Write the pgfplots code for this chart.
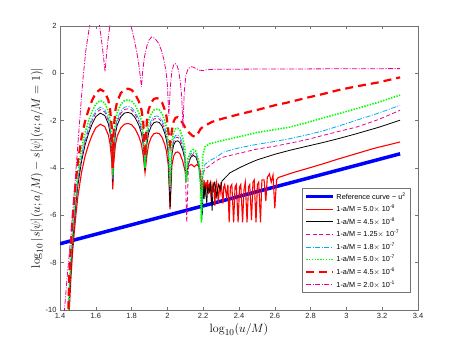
\documentclass[border=0pt]{standalone}
\usepackage[no-math]{fontspec}
\setmainfont{Liberation Sans}
\usepackage{pgfplots}
\pgfplotsset{compat=1.18}
\definecolor{axgray}{rgb}{0.45,0.45,0.45}
\begin{document}
\begin{tikzpicture}
\begin{axis}[
  name=ax,
  scale only axis,
  width=358pt, height=284pt,
  xmin=1.4, xmax=3.4, ymin=-10, ymax=2,
  xtick={1.4,1.6,1.8,2,2.2,2.4,2.6,2.8,3,3.2,3.4},
  xticklabels={1.4,1.6,1.8,2,2.2,2.4,2.6,2.8,3,3.2,3.4},
  ytick={-10,-8,-6,-4,-2,0,2},
  yticklabels={-10,-8,-6,-4,-2,0,2},
  tick align=inside,
  major tick length=3.5pt,
  axis line style={axgray, line width=0.5pt},
  every tick/.style={axgray, line width=0.5pt},
  tick label style={font=\fontsize{7.5}{9}\selectfont, text=black!85},
  /pgf/number format/assume math mode=true,
  xlabel={$\log_{10}(u/M)$},
  ylabel={$\log_{10}|s[\psi](u;a/M)-s[\psi](u;a/M=1)|$},
  label style={font=\fontsize{13}{15}\selectfont},
  xlabel style={yshift=2pt},
  ylabel style={yshift=-4pt},
  legend style={at={(0.978,0.06)}, anchor=south east, draw=axgray, line width=0.5pt,
    font=\fontsize{7.3}{8.5}\selectfont, row sep=1.3pt, inner sep=2.5pt,
    nodes={inner sep=1.6pt}},
  legend cell align=left,
  legend image code/.code={\draw[#1] (0pt,0pt) -- (27pt,0pt);},
]
% reference curve
\addplot[blue, line width=3.5pt] coordinates {(1.4,-7.2) (3.3,-3.4)};
\addlegendentry{Reference curve \textasciitilde{} u\textsuperscript{2}}
% 1-a/M = 5.0e-9 (red solid)
\addplot[red, line width=1.1pt] coordinates {
(1.447,-10.5) (1.452,-10) (1.46,-8.8) (1.47,-7.6) (1.48,-6.7) (1.49,-5.9) (1.50,-5.2) (1.52,-4.2) (1.54,-3.5) (1.56,-3.0) (1.58,-2.6) (1.60,-2.3) (1.625,-2.15) (1.65,-2.25) (1.67,-2.6) (1.68,-3.0) (1.69,-3.8) (1.695,-4.9) (1.70,-3.8) (1.71,-3.0) (1.72,-2.65) (1.74,-2.3) (1.76,-2.15) (1.78,-2.12) (1.80,-2.17) (1.82,-2.35) (1.84,-2.65) (1.855,-3.0) (1.865,-3.5) (1.875,-4.2) (1.885,-3.5) (1.895,-3.0) (1.91,-2.7) (1.925,-2.55) (1.94,-2.52) (1.955,-2.55) (1.97,-2.7) (1.985,-3.0) (1.995,-3.3) (2.005,-3.9) (2.015,-5.75) (2.025,-3.9) (2.035,-3.5) (2.045,-3.35) (2.058,-3.32) (2.07,-3.4) (2.085,-3.7) (2.098,-4.1) (2.105,-4.4) (2.112,-4.1) (2.12,-3.9) (2.135,-3.85) (2.15,-3.95) (2.165,-3.85) (2.178,-3.95) (2.186,-4.2)
(2.19,-5.0) (2.195,-4.6) (2.20,-4.8) (2.205,-4.5) (2.21,-5.2) (2.215,-4.6) (2.22,-4.9) (2.225,-4.5) (2.23,-5.1) (2.235,-4.7) (2.24,-4.6) (2.245,-5.4) (2.25,-4.7) (2.255,-4.9) (2.26,-4.6) (2.265,-5.6) (2.27,-4.8) (2.275,-4.6) (2.285,-5.5) (2.29,-4.7) (2.295,-5.0) (2.30,-4.6) (2.31,-5.5) (2.315,-4.8) (2.32,-4.7) (2.33,-5.2) (2.338,-4.7) (2.345,-6.3) (2.352,-4.8) (2.36,-4.7) (2.37,-6.3) (2.378,-4.8) (2.385,-4.7) (2.395,-6.3) (2.403,-4.8) (2.41,-4.7) (2.42,-6.3) (2.428,-4.9) (2.435,-4.6) (2.445,-6.3) (2.453,-4.8) (2.46,-4.7) (2.47,-6.2) (2.478,-4.6) (2.485,-4.5) (2.495,-6.3) (2.503,-4.7) (2.51,-4.6) (2.52,-6.3) (2.528,-4.5) (2.54,-4.5) (2.55,-5.4) (2.558,-4.4) (2.57,-4.25) (2.58,-4.6) (2.59,-4.3) (2.60,-5.7) (2.61,-4.5) (2.62,-4.4)
(2.7,-4.2) (2.8,-3.98) (2.871,-3.82) (2.95,-3.63) (3.057,-3.39) (3.15,-3.18) (3.3,-2.9)};
\addlegendentry{1-a/M = 5.0$\times$ 10\textsuperscript{-9}}
% 4.5e-8 (black)
\addplot[black, line width=0.8pt] coordinates {
(1.447,-10.5) (1.452,-9.53) (1.46,-8.33) (1.47,-7.13) (1.48,-6.23) (1.49,-5.43) (1.50,-4.73) (1.52,-3.73) (1.54,-3.03) (1.56,-2.53) (1.58,-2.13) (1.60,-1.83) (1.625,-1.68) (1.65,-1.78) (1.67,-2.13) (1.68,-2.53) (1.69,-3.33) (1.695,-4.6) (1.70,-3.33) (1.71,-2.53) (1.72,-2.18) (1.74,-1.83) (1.76,-1.68) (1.78,-1.65) (1.80,-1.70) (1.82,-1.88) (1.84,-2.18) (1.855,-2.53) (1.865,-3.03) (1.875,-4.1) (1.885,-3.03) (1.895,-2.53) (1.91,-2.23) (1.925,-2.08) (1.94,-2.05) (1.955,-2.08) (1.97,-2.23) (1.985,-2.53) (1.995,-2.83) (2.005,-3.43) (2.015,-5.65) (2.025,-3.43) (2.035,-3.03) (2.045,-2.88) (2.058,-2.85) (2.07,-2.93) (2.085,-3.23) (2.098,-3.63) (2.105,-4.6)
(2.115,-3.9) (2.13,-3.55) (2.145,-3.47) (2.16,-3.55) (2.175,-3.9) (2.185,-4.6) (2.195,-6.0) (2.20,-4.8) (2.205,-5.3) (2.21,-4.7) (2.22,-5.5) (2.225,-4.8) (2.235,-5.0) (2.24,-4.6) (2.25,-5.8) (2.255,-4.8) (2.265,-4.6) (2.275,-5.2) (2.285,-4.7) (2.295,-4.9) (2.305,-4.55) (2.35,-4.2) (2.40,-4.0) (2.45,-3.82) (2.50,-3.66) (2.60,-3.42) (2.685,-3.25) (2.78,-3.08) (2.871,-2.92) (2.96,-2.75) (3.057,-2.55) (3.18,-2.28) (3.3,-1.98)};
\addlegendentry{1-a/M = 4.5$\times$ 10\textsuperscript{-8}}
% 1.25e-7 (magenta dashed)
\addplot[magenta, line width=0.8pt, dash pattern=on 4pt off 2.5pt] coordinates {
(1.447,-10.5) (1.452,-9.38) (1.46,-8.18) (1.47,-6.98) (1.48,-6.08) (1.49,-5.28) (1.50,-4.58) (1.52,-3.58) (1.54,-2.88) (1.56,-2.38) (1.58,-1.98) (1.60,-1.68) (1.625,-1.53) (1.65,-1.63) (1.67,-1.98) (1.68,-2.38) (1.69,-3.18) (1.695,-4.5) (1.70,-3.18) (1.71,-2.38) (1.72,-2.03) (1.74,-1.68) (1.76,-1.53) (1.78,-1.50) (1.80,-1.55) (1.82,-1.73) (1.84,-2.03) (1.855,-2.38) (1.865,-2.88) (1.875,-4.0) (1.885,-2.88) (1.895,-2.38) (1.91,-2.08) (1.925,-1.93) (1.94,-1.90) (1.955,-1.93) (1.97,-2.08) (1.985,-2.38) (1.995,-2.68) (2.005,-3.28) (2.015,-5.0) (2.025,-3.28) (2.035,-2.88) (2.045,-2.73) (2.058,-2.70) (2.07,-2.78) (2.085,-3.08) (2.098,-3.6) (2.108,-6.3) (2.118,-3.8) (2.13,-3.5) (2.145,-3.4) (2.16,-3.5) (2.175,-3.8) (2.188,-4.8) (2.2,-4.2) (2.21,-4.05) (2.238,-3.89) (2.27,-3.7) (2.312,-3.54) (2.40,-3.38) (2.50,-3.2) (2.60,-3.08) (2.685,-2.95) (2.78,-2.8) (2.871,-2.62) (2.96,-2.45) (3.057,-2.27) (3.18,-1.95) (3.3,-1.56)};
\addlegendentry{1-a/M = 1.25$\times$ 10\textsuperscript{-7}}
% 1.8e-7 (cyan dash-dot)
\addplot[cyan, line width=0.8pt, dash pattern=on 5pt off 1.5pt on 1pt off 1.5pt] coordinates {
(1.447,-10.5) (1.452,-9.28) (1.46,-8.08) (1.47,-6.88) (1.48,-5.98) (1.49,-5.18) (1.50,-4.48) (1.52,-3.48) (1.54,-2.78) (1.56,-2.28) (1.58,-1.88) (1.60,-1.58) (1.625,-1.43) (1.65,-1.53) (1.67,-1.88) (1.68,-2.28) (1.69,-3.08) (1.695,-4.5) (1.70,-3.08) (1.71,-2.28) (1.72,-1.93) (1.74,-1.58) (1.76,-1.43) (1.78,-1.40) (1.80,-1.45) (1.82,-1.63) (1.84,-1.93) (1.855,-2.28) (1.865,-2.78) (1.875,-4.0) (1.885,-2.78) (1.895,-2.28) (1.91,-1.98) (1.925,-1.83) (1.94,-1.80) (1.955,-1.83) (1.97,-1.98) (1.985,-2.28) (1.995,-2.58) (2.005,-3.18) (2.015,-5.0) (2.025,-3.18) (2.035,-2.78) (2.045,-2.63) (2.058,-2.60) (2.07,-2.68) (2.085,-2.98) (2.098,-3.5) (2.105,-4.6) (2.115,-3.7) (2.13,-3.4) (2.145,-3.33) (2.16,-3.4) (2.175,-3.75) (2.185,-4.6) (2.192,-6.3) (2.2,-4.2) (2.21,-3.85) (2.238,-3.68) (2.275,-3.54) (2.312,-3.33) (2.40,-3.15) (2.50,-3.0) (2.60,-2.88) (2.685,-2.76) (2.78,-2.6) (2.871,-2.43) (2.96,-2.22) (3.057,-1.98) (3.18,-1.68) (3.3,-1.35)};
\addlegendentry{1-a/M = 1.8$\times$ 10\textsuperscript{-7}}
% 5.0e-7 (green dotted)
\addplot[green, line width=1.6pt, dash pattern=on 1.4pt off 1.4pt] coordinates {
(1.447,-10.5) (1.452,-9.0) (1.46,-7.8) (1.47,-6.6) (1.48,-5.7) (1.49,-4.9) (1.50,-4.2) (1.52,-3.2) (1.54,-2.5) (1.56,-2.0) (1.58,-1.6) (1.60,-1.3) (1.625,-1.15) (1.65,-1.25) (1.67,-1.6) (1.68,-2.0) (1.69,-2.8) (1.695,-4.3) (1.70,-2.8) (1.71,-2.0) (1.72,-1.65) (1.74,-1.3) (1.76,-1.15) (1.78,-1.12) (1.80,-1.17) (1.82,-1.35) (1.84,-1.65) (1.855,-2.0) (1.865,-2.5) (1.875,-4.0) (1.885,-2.5) (1.895,-2.0) (1.91,-1.7) (1.925,-1.55) (1.94,-1.52) (1.955,-1.55) (1.97,-1.7) (1.985,-2.0) (1.995,-2.3) (2.005,-2.9) (2.015,-4.8) (2.025,-2.9) (2.035,-2.5) (2.045,-2.35) (2.058,-2.32) (2.07,-2.4) (2.085,-2.7) (2.098,-3.2) (2.105,-4.6) (2.115,-3.6) (2.13,-3.3) (2.145,-3.22) (2.16,-3.3) (2.175,-3.7) (2.185,-4.8) (2.19,-6.3) (2.197,-3.5) (2.21,-3.1) (2.238,-2.97) (2.312,-2.83) (2.40,-2.68) (2.50,-2.5) (2.60,-2.38) (2.685,-2.27) (2.78,-2.08) (2.871,-1.88) (2.96,-1.7) (3.057,-1.49) (3.18,-1.22) (3.3,-0.92)};
\addlegendentry{1-a/M = 5.0$\times$ 10\textsuperscript{-7}}
% 4.5e-6 (red dashed)
\addplot[red, line width=2.2pt, dash pattern=on 8pt off 5pt] coordinates {
(1.445,-10.5) (1.452,-8.53) (1.46,-7.33) (1.47,-6.13) (1.48,-5.23) (1.49,-4.43) (1.50,-3.73) (1.52,-2.73) (1.54,-2.03) (1.56,-1.53) (1.58,-1.13) (1.60,-0.83) (1.625,-0.68) (1.65,-0.78) (1.67,-1.13) (1.68,-1.53) (1.69,-2.33) (1.695,-4.0) (1.70,-2.33) (1.71,-1.53) (1.72,-1.18) (1.74,-0.83) (1.76,-0.68) (1.78,-0.65) (1.80,-0.70) (1.82,-0.88) (1.84,-1.18) (1.855,-1.53) (1.865,-2.03) (1.875,-3.5) (1.885,-2.03) (1.895,-1.53) (1.91,-1.23) (1.925,-1.08) (1.94,-1.05) (1.955,-1.08) (1.97,-1.23) (1.985,-1.53) (1.995,-1.83) (2.005,-2.43) (2.015,-3.0) (2.025,-2.43) (2.035,-2.03) (2.045,-1.88) (2.058,-1.85) (2.07,-1.93) (2.085,-2.1) (2.10,-2.3) (2.12,-2.5) (2.14,-2.64) (2.155,-2.68) (2.17,-2.55) (2.185,-2.35) (2.2,-2.25) (2.25,-2.05) (2.3,-1.93) (2.4,-1.73) (2.5,-1.55) (2.6,-1.35) (2.685,-1.21) (2.78,-1.03) (2.871,-0.87) (2.96,-0.7) (3.057,-0.55) (3.18,-0.38) (3.3,-0.17)};
\addlegendentry{1-a/M = 4.5$\times$ 10\textsuperscript{-6}}
% 2.0e-1 (magenta dash-dot)
\addplot[magenta, line width=0.8pt, dash pattern=on 5pt off 1.5pt on 1pt off 1.5pt] coordinates {
(1.42,-10.5) (1.425,-10) (1.44,-8.6) (1.45,-7.8) (1.46,-6.9) (1.47,-6.0) (1.48,-5.0) (1.49,-4.0) (1.50,-3.0) (1.51,-2.0) (1.52,-1.0) (1.53,-0.1) (1.545,1.0) (1.565,2.0) (1.59,2.6) (1.61,2.5) (1.625,1.8) (1.635,1.2) (1.643,0.7) (1.652,0.07) (1.66,0.8) (1.668,1.4) (1.68,2.1) (1.72,2.6) (1.76,2.55) (1.795,2.05) (1.81,1.6) (1.825,1.05) (1.84,0.4) (1.848,-0.1) (1.855,-0.57) (1.862,0.1) (1.872,0.7) (1.885,1.15) (1.898,1.42) (1.912,1.53) (1.93,1.48) (1.95,1.28) (1.965,1.0) (1.98,0.6) (1.992,0.1) (2.0,-0.5) (2.008,-1.8) (2.016,-0.6) (2.025,0.1) (2.035,0.35) (2.043,0.42) (2.053,0.35) (2.063,0.1) (2.073,-0.4) (2.08,-1.0) (2.087,-2.3) (2.094,-0.8) (2.103,-0.1) (2.115,0.18) (2.13,0.28) (2.145,0.26) (2.16,0.2) (2.18,0.13) (2.2,0.12) (2.22,0.15) (2.26,0.17) (2.5,0.18) (3.3,0.2)};
\addlegendentry{1-a/M = 2.0$\times$ 10\textsuperscript{-1}}
\end{axis}
\path ([shift={(-60pt,-38pt)}]ax.south west) rectangle ([shift={(45pt,26pt)}]ax.north east);
\end{tikzpicture}
\end{document}
